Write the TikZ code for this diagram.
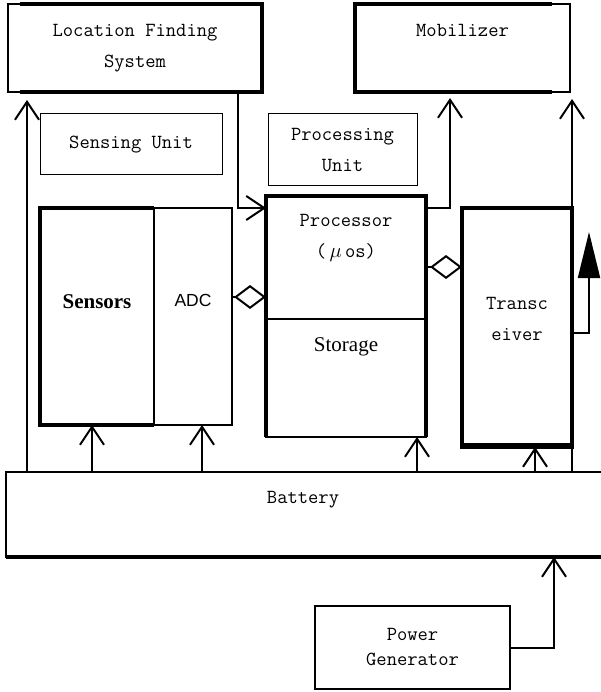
\documentclass[tikz,border=0pt]{standalone}
\usepackage{fontspec}
\usetikzlibrary{arrows.meta,positioning}
\newfontfamily\timesfont{Liberation Serif}
\newfontfamily\arialfont{Liberation Sans}

\begin{document}
\begin{tikzpicture}[x=1pt,y=-1pt,
  box/.style={draw,line width=1.3pt,inner sep=0pt,outer sep=0pt,align=center,font=\ttfamily\fontsize{20}{31}\selectfont},
  txt/.style={inner sep=0pt,align=center,font=\ttfamily\fontsize{20}{31}\selectfont},
  heavy/.style={line width=3.5pt},
  arrow/.style={line width=2pt,-{Straight Barb[length=18pt,width=24pt,line width=2pt]}},
  dia/.style={line width=2pt,-{Diamond[open,length=32pt,width=24pt,line width=2pt]}}
]
  \useasboundingbox (0,0) rectangle (601,692);

  % top row
  \node[box,minimum width=254pt,minimum height=88pt] (lfs) at (135,48) {Location Finding\\System};
  \node[box,minimum width=215pt,minimum height=88pt] (mob) at (462.5,48) {};
  \node[txt] (mobtxt) at (mob.center |- 0,30) {Mobilizer};
  \draw[heavy] ([xshift=12pt]lfs.north west) -- (lfs.north east) -- (lfs.south east) -- ([xshift=12pt]lfs.south west);
  \draw[heavy] ([xshift=-18pt]mob.north east) -- (mob.north west) -- (mob.south west) -- ([xshift=-18pt]mob.south east);

  % unit titles
  \node[box,line width=1pt,minimum width=182pt,minimum height=61pt] (sensing) at (131,144.5) {Sensing Unit};
  \node[box,line width=1pt,minimum width=149pt,minimum height=72pt] (procunit) at (342.5,150) {Processing\\Unit};

  % sensing unit
  \node[box,minimum width=114pt,minimum height=217pt] (sens) at (97,316.5) {};
  \node[box,minimum width=78pt,minimum height=217pt,right=0pt of sens] (adc) {};
  \draw[heavy] (sens.north east) -- (sens.north west) -- (sens.south west) -- (sens.south east);
  \node[txt,font=\timesfont\bfseries\fontsize{21}{25}\selectfont] (senstxt) at (sens.center |- 0,302) {Sensors};
  \node[txt,font=\arialfont\fontsize{17.5}{21}\selectfont] (adctxt) at (adc.center |- 0,300) {ADC};

  % processing unit
  \node[box,minimum width=160pt,minimum height=123pt] (proc) at (346,257.5) {};
  \node[box,minimum width=160pt,minimum height=118pt,below=0pt of proc] (stor) {};
  \draw[heavy] (stor.south west) -- (proc.north west) -- (proc.north east) -- (stor.south east);
  \node[txt] (proctxt) at (proc.center |- 0,238) {Processor\\(\,$\mu$\,os)};
  \node[txt,font=\timesfont\fontsize{21}{25}\selectfont] (stortxt) at (stor.center |- 0,347) {Storage};

  % transceiver
  \node[box,minimum width=110pt,minimum height=239pt] (trx) at (517,327.5) {};
  \draw[heavy] (trx.north west) rectangle (trx.south east);
  \draw[line width=5pt] ([yshift=2pt]trx.south west) -- ([yshift=2pt]trx.south east);
  \node[txt] (trxtxt) at (trx.center |- 0,319) {Transc\\eiver};

  % battery and power generator
  \node[box,minimum width=598pt,minimum height=85pt] (bat) at (305,514.5) {};
  \draw[heavy] (bat.south west) -- (bat.south east);
  \node[txt] (battxt) at (303,500) {Battery};
  \node[box,line width=2.5pt,minimum width=195pt,minimum height=83pt,font=\ttfamily\fontsize{20}{25}\selectfont] (pg) at (412.5,647.5) {Power\\Generator};

  % connectors
  \draw[arrow,shorten >=8pt] (bat.north -| 27,0) -- (lfs.south -| 27,0);
  \draw[arrow] (bat.north -| 92,0) -- (sens.south -| 92,0);
  \draw[arrow] (bat.north -| 202,0) -- (adc.south -| 202,0);
  \draw[arrow] (bat.north -| 417,0) -- (stor.south -| 417,0);
  \draw[arrow] (bat.north -| 535,0) -- (trx.south -| 535,0);
  \draw[arrow,shorten >=7pt] (bat.north -| trx.east) -- (mob.south -| trx.east);
  \draw[arrow] (lfs.south -| 238,0) |- (proc.west |- 0,208);
  \draw[arrow,shorten >=6pt] (proc.east |- 0,208) -| (mob.south -| 450,0);
  \draw[arrow] (pg.east) -| (bat.south -| 554,0);
  \draw[dia] (adc.east |- 0,297) -- (proc.west |- 0,297);
  \draw[dia] (proc.east |- 0,267) -- (trx.west |- 0,267);
  \coordinate (ant) at (589,232);
  \draw[line width=2pt,-{Triangle[length=46pt,width=22pt]}] (trx.east |- 0,333) -| (ant);
\end{tikzpicture}
\end{document}
